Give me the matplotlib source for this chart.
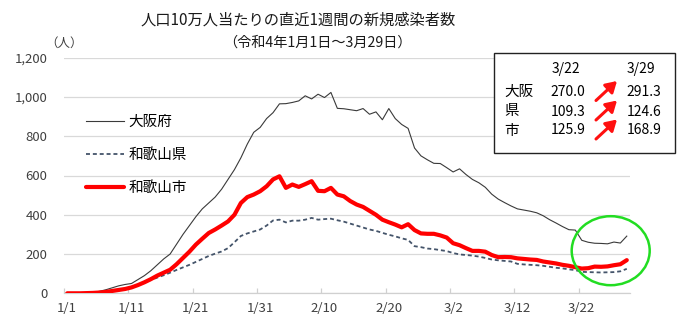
import matplotlib
matplotlib.use("Agg")
import matplotlib.pyplot as plt
import numpy as np
from matplotlib.patches import Rectangle, Ellipse, FancyArrowPatch
from matplotlib.ticker import FuncFormatter

plt.rcParams['font.family'] = ['Noto Sans CJK JP', 'DejaVu Sans']

# ---- data (1/1 .. 3/29, 88 days) ----
dates = ([f"1/{d}" for d in range(1, 32)] + [f"2/{d}" for d in range(1, 29)]
         + [f"3/{d}" for d in range(1, 30)])
osaka = [0, 0, 1, 2, 4, 10, 18, 28, 38, 45,
         50, 70, 90, 115, 145, 175, 200, 250, 300, 345,
         390, 430, 460, 490, 530, 580, 630, 690, 760, 820,
         845, 890, 920, 965, 966, 972, 980, 1006, 990, 1014,
         997, 1023, 942, 940, 935, 930, 941, 912, 924, 884,
         941, 890, 860, 840, 740, 700, 680, 662, 661, 640,
         618, 634, 605, 580, 563, 540, 505, 480, 462, 445,
         430, 424, 418, 410, 395, 375, 358, 340, 324, 322,
         270.0, 260, 255, 254, 252, 261, 256, 291.3]
pref = [0, 0, 0, 1, 2, 4, 7, 12, 17, 22,
        30, 42, 55, 68, 80, 92, 105, 119, 132, 145,
        160, 175, 190, 202, 213, 230, 260, 292, 305, 315,
        325, 345, 371, 375, 361, 370, 370, 375, 384, 375,
        378, 380, 372, 365, 355, 345, 335, 325, 318, 308,
        298, 290, 280, 272, 240, 235, 228, 225, 220, 215,
        205, 198, 195, 192, 187, 180, 172, 168, 165, 162,
        150, 147, 145, 143, 140, 135, 130, 127, 122, 118,
        109.3, 108, 107, 106, 107, 108, 112, 124.6]
city = [0, 0, 0, 1, 2, 4, 7, 12, 17, 22,
        30, 42, 56, 72, 90, 105, 120, 148, 180, 212,
        248, 278, 307, 325, 345, 366, 400, 460, 490, 503,
        520, 545, 580, 596, 537, 554, 542, 556, 571, 522,
        520, 537, 503, 494, 470, 452, 440, 420, 400, 375,
        362, 350, 336, 352, 322, 305, 303, 303, 295, 284,
        255, 245, 230, 216, 216, 212, 195, 184, 185, 184,
        178, 175, 172, 170, 162, 157, 152, 145, 140, 133,
        125.9, 128, 136, 135, 137, 143, 148, 168.9]
series_names = ["大阪府", "和歌山県", "和歌山市"]
y_ticks = [0, 200, 400, 600, 800, 1000, 1200]
table_dates = ["3/22", "3/29"]
table_rows = ["大阪", "県", "市"]
table_prev = ["270.0", "109.3", "125.9"]
table_last = ["291.3", "124.6", "168.9"]

W, H = 690, 331
fig = plt.figure(figsize=(W / 100, H / 100), dpi=100)
ax = fig.add_axes([64 / W, 1 - 293.3 / H, (630 - 64) / W, (293.3 - 57.7) / H])

x = np.arange(len(dates))
ax.plot(x, osaka, color="#3a3a3a", lw=0.8, label=series_names[0], zorder=3)
ax.plot(x, pref, color="#44546A", lw=1.3, ls=(0, (2.2, 1.6)), label=series_names[1], zorder=3)
ax.plot(x, city, color="#FF0000", lw=3.0, label=series_names[2], zorder=4,
        solid_joinstyle="round", solid_capstyle="round")

ax.set_xlim(-0.5, len(dates) - 0.5)
ax.set_ylim(0, 1200)
ax.set_yticks(y_ticks)
ax.yaxis.set_major_formatter(FuncFormatter(lambda v, p: f"{int(v):,}"))
ax.grid(axis="y", color="#D9D9D9", lw=0.9)
ax.set_axisbelow(True)
for s in ["left", "right", "top"]:
    ax.spines[s].set_visible(False)
ax.spines["bottom"].set_color("#D0D0D0")
ax.spines["bottom"].set_linewidth(0.9)

lab_idx = list(range(0, len(dates), 10))
ax.set_xticks(lab_idx)
ax.set_xticklabels([dates[i] for i in lab_idx])
ax.set_xticks([i - 0.5 for i in lab_idx], minor=True)
ax.tick_params(axis="x", which="major", length=0, pad=6.5, labelsize=9.5, labelcolor="#404040")
ax.tick_params(axis="x", which="minor", direction="in", length=3.8, color="#D0D0D0", width=0.9)
ax.tick_params(axis="y", length=0, pad=12, labelsize=9.5, labelcolor="#404040")

# legend
leg = ax.legend(loc="upper left", bbox_to_anchor=((80 - 64) / (630 - 64), 1 - (109 - 57.7) / (293.3 - 57.7)),
                frameon=False, fontsize=10.5, handlelength=2.6, handletextpad=0.35,
                labelspacing=1.3, borderaxespad=0)

# titles
fig.text(298 / W, 1 - 20 / H, "人口10万人当たりの直近1週間の新規感染者数", ha="center", va="center",
         fontsize=11, color="#1a1a1a")
fig.text(317 / W, 1 - 43 / H, "（令和4年1月1日～3月29日）", ha="center", va="center",
         fontsize=10.2, color="#1a1a1a")
fig.text(64 / W, 1 - 43 / H, "（人）", ha="center", va="center", fontsize=9, color="#404040")

# table box
fig.patches.append(Rectangle((494 / W, 1 - 153.3 / H), (675 - 494) / W, (153.3 - 52.7) / H,
                             transform=fig.transFigure, facecolor="white", edgecolor="#222222",
                             lw=1.0, zorder=5))
ty_head = 69.5
fig.text(566 / W, 1 - ty_head / H, table_dates[0], ha="center", va="center", fontsize=10, zorder=6)
fig.text(641 / W, 1 - ty_head / H, table_dates[1], ha="center", va="center", fontsize=10, zorder=6)
row_y = [92, 111.5, 130.5]
for ry, lab, a, b in zip(row_y, table_rows, table_prev, table_last):
    fig.text(504 / W, 1 - ry / H, lab, ha="left", va="center", fontsize=10.5, zorder=6)
    fig.text(568 / W, 1 - ry / H, a, ha="center", va="center", fontsize=10, zorder=6)
    fig.text(644 / W, 1 - ry / H, b, ha="center", va="center", fontsize=10, zorder=6)
    arr = FancyArrowPatch((596 / W, 1 - (ry + 8.5) / H), (617 / W, 1 - (ry - 11) / H),
                          transform=fig.transFigure, arrowstyle="-|>,head_length=4,head_width=2.4",
                          color="#FF1010", lw=2.2, mutation_scale=1.6, zorder=6,
                          shrinkA=0, shrinkB=0)
    fig.patches.append(arr)

# green circle
fig.patches.append(Ellipse((610.7 / W, 1 - 250.7 / H), 78 / W, 69 / H, transform=fig.transFigure,
                           facecolor="none", edgecolor="#22DD22", lw=1.8, zorder=7))

fig.savefig("out.png", dpi=100)
